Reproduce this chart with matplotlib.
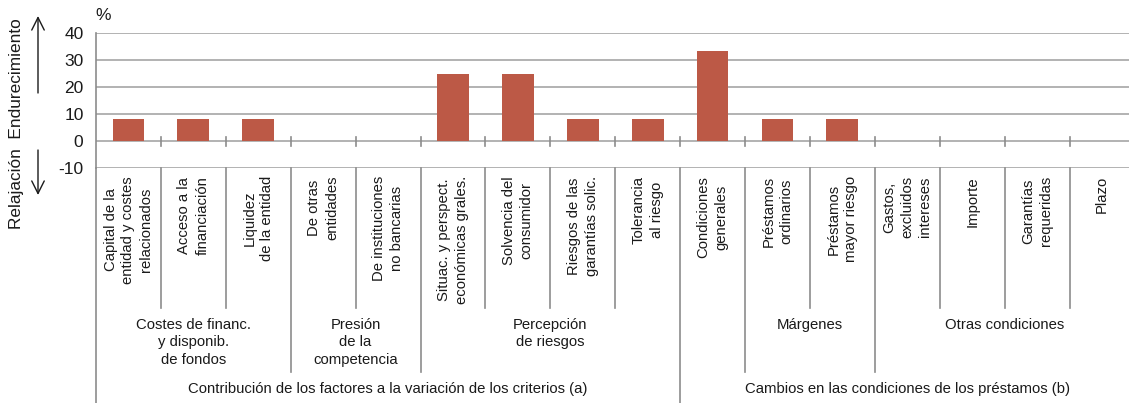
import matplotlib
matplotlib.use("Agg")
import matplotlib.pyplot as plt
from matplotlib.transforms import blended_transform_factory
from matplotlib.patches import FancyArrowPatch

plt.rcParams['font.family'] = ['Liberation Sans', 'DejaVu Sans']

categories = [
    "Capital de la\nentidad y costes\nrelacionados",
    "Acceso a la\nfinanciación",
    "Liquidez\nde la entidad",
    "De otras\nentidades",
    "De instituciones\nno bancarias",
    "Situac. y perspect.\neconómicas grales.",
    "Solvencia del\nconsumidor",
    "Riesgos de las\ngarantías solic.",
    "Tolerancia\nal riesgo",
    "Condiciones\ngenerales",
    "Préstamos\nordinarios",
    "Préstamos\nmayor riesgo",
    "Gastos,\nexcluidos\nintereses",
    "Importe",
    "Garantías\nrequeridas",
    "Plazo",
]
values = [8.3, 8.3, 8.3, 0, 0, 25, 25, 8.3, 8.3, 33.3, 8.3, 8.3, 0, 0, 0, 0]

group_labels = ["Costes de financ.\ny disponib.\nde fondos", "Presión\nde la\ncompetencia",
                "Percepción\nde riesgos", "", "Márgenes", "Otras condiciones"]
group_bounds = [(0, 3), (3, 5), (5, 9), (9, 10), (10, 12), (12, 16)]

top_labels = ["Contribución de los factores a la variación de los criterios (a)",
              "Cambios en las condiciones de los préstamos (b)"]
top_bounds = [(0, 9), (9, 16)]

yticks = [-10, 0, 10, 20, 30, 40]

W, H = 1129, 403
fig = plt.figure(figsize=(W / 100, H / 100), dpi=100)

# pixel layout
x0, cat_w = 96, 64.9
y_top, y_bot = 33, 168
ax = fig.add_axes([x0 / W, 1 - y_bot / H, (W - x0) / W, (y_bot - y_top) / H])
ax.set_xlim(0, (W - x0) / cat_w)
ax.set_ylim(-10, 40)

grid_c = '#a6a6a6'
line_c = '#8c8c8c'
txt_c = '#1a1a1a'
for yv in yticks:
    ax.axhline(yv, color=grid_c, lw=1.2, zorder=1)

xs = [i + 0.5 for i in range(len(categories))]
ax.bar(xs, values, width=0.49, color='#bc5946', linewidth=0, zorder=3)

ax.set_yticks(yticks)
ax.set_yticklabels([str(v) for v in yticks], fontsize=12.5, color=txt_c)
ax.tick_params(axis='y', length=0, pad=9)
ax.set_xticks([])
for s in ['top', 'right', 'bottom']:
    ax.spines[s].set_visible(False)
ax.spines['left'].set_color(line_c)
ax.spines['left'].set_linewidth(1.2)

def fy(py):
    return 1 - py / H

tr = blended_transform_factory(ax.transData, fig.transFigure)

# small ticks on zero line
for k in range(1, len(categories) + 1):
    ax.plot([k, k], [fy(137), fy(146)], transform=tr, color=line_c, lw=1.2, clip_on=False, zorder=2)

# left axis continues to bottom
ax.plot([0, 0], [fy(168), fy(403)], transform=tr, color=line_c, lw=1.2, clip_on=False)

group_edges = set(b for _, b in group_bounds)
top_edges = set(b for _, b in top_bounds)
for k in range(1, len(categories) + 1):
    if k in top_edges:
        yb = 403
    elif k in group_edges:
        yb = 372
    else:
        yb = 308
    ax.plot([k, k], [fy(168), fy(yb)], transform=tr, color=line_c, lw=1.2, clip_on=False)

# category labels
for x, lab in zip(xs, categories):
    ax.text(x, fy(176), lab, transform=tr, rotation=90, ha='center', va='top',
            multialignment='center', fontsize=10.7, linespacing=1.35, color=txt_c)

for lab, (a, b) in zip(group_labels, group_bounds):
    if lab:
        ax.text((a + b) / 2, fy(318), lab, transform=tr, ha='center', va='top',
                multialignment='center', fontsize=10.7, linespacing=1.3, color=txt_c)

for lab, (a, b) in zip(top_labels, top_bounds):
    ax.text((a + b) / 2, fy(389), lab, transform=tr, ha='center', va='center',
            fontsize=10.7, color=txt_c)

# % label
fig.text(103 / W, fy(15), "%", ha='center', va='center', fontsize=12.5, color=txt_c)

# y label and arrows
fig.text(17 / W, fy(124), "Relajación  Endurecimiento", rotation=90, ha='center', va='center',
         fontsize=12.4, color=txt_c)
arr_kw = dict(arrowstyle='->,head_length=0.6,head_width=0.3', color=txt_c, lw=1.0,
              mutation_scale=15, transform=fig.transFigure, shrinkA=0, shrinkB=0)
fig.add_artist(FancyArrowPatch((38 / W, fy(93)), (38 / W, fy(16)), **arr_kw))
fig.add_artist(FancyArrowPatch((38 / W, fy(150)), (38 / W, fy(195)), **arr_kw))

fig.savefig("out.png", dpi=100, facecolor='white')
